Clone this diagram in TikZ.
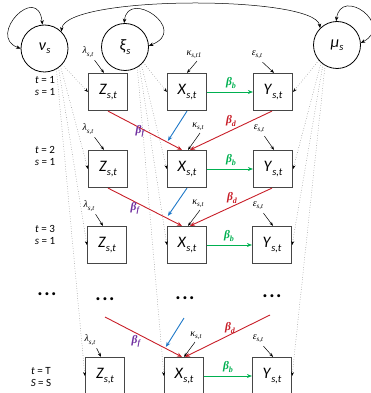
\documentclass[tikz,border=0pt]{standalone}
\usepackage{fontspec}
\setmainfont{Carlito}
\newfontfamily\serifgr{Liberation Serif}
\usetikzlibrary{arrows.meta}
\definecolor{gr}{RGB}{0,176,80}
\definecolor{rd}{RGB}{200,30,40}
\definecolor{pu}{RGB}{112,48,160}
\definecolor{bl}{RGB}{30,120,200}
\definecolor{bxc}{RGB}{70,70,70}
\newcommand{\vv}[2]{\textit{#1}\raisebox{-0.45ex}{\fontsize{10.5}{10.5}\selectfont\textit{#2}}}
\newcommand{\smlab}[2]{{\serifgr\fontsize{10}{10}\selectfont\textit{#1}\raisebox{-0.45ex}{\fontsize{7}{7}\selectfont\textit{#2}}}}
\newcommand{\betalab}[1]{{\serifgr\fontsize{11.5}{11.5}\selectfont\bfseries\itshape β\raisebox{-0.45ex}{\fontsize{8}{8}\selectfont #1}}}
\begin{document}
\begin{tikzpicture}[x=1pt,y=-1pt,
 circ/.style={circle,draw,line width=0.8pt,minimum size=47pt,inner sep=0pt,font=\fontsize{16}{16}\selectfont},
 bx/.style={draw=bxc,line width=1.2pt,minimum width=39pt,minimum height=37pt,inner sep=0pt,fill=white,font=\fontsize{16}{16}\selectfont},
 rowlab/.style={align=center,font=\fontsize{11}{12.5}\selectfont,inner sep=0pt},
 dotsn/.style={font=\fontsize{20}{20}\selectfont\bfseries,inner sep=0pt},
 lab/.style={inner sep=0pt},
 smarr/.style={line width=0.5pt,-{Stealth[length=4pt,width=3pt]}},
 loopa/.style={line width=0.5pt,{Stealth[length=4.5pt,width=3.5pt]}-{Stealth[length=4.5pt,width=3.5pt]}},
 dotl/.style={draw=black!55,dotted,line width=0.5pt,-{Stealth[length=4pt,width=3pt,black]}},
 rarr/.style={draw=rd,line width=0.9pt,-{Stealth[length=5pt,width=4pt]}},
 barr/.style={draw=bl,line width=0.9pt,-{Stealth[length=5pt,width=4pt]}},
 garr/.style={draw=gr,line width=0.9pt,-{Stealth[length=5pt,width=4pt]}}]
\useasboundingbox (0,0) rectangle (371,393);
% latent circles
\node[circ] (nu) at (44.5,48.5) {\vv{ν}{s}};
\node[circ] (xi) at (125,47) {\vv{ξ}{s}};
\node[circ] (mu) at (337,45) {\vv{μ}{s}};
% boxes
\node[bx] (Z1) at (108,92) {\vv{Z}{s,t}};
\node[bx] (X1) at (187,92) {\vv{X}{s,t}};
\node[bx] (Y1) at (273,92) {\vv{Y}{s,t}};
\node[bx] (Z2) at (108,169) {\vv{Z}{s,t}};
\node[bx] (X2) at (187,169) {\vv{X}{s,t}};
\node[bx] (Y2) at (273,169) {\vv{Y}{s,t}};
\node[bx] (Z3) at (107,245) {\vv{Z}{s,t}};
\node[bx] (X3) at (187,245) {\vv{X}{s,t}};
\node[bx] (Y3) at (272,245) {\vv{Y}{s,t}};
\node[bx] (Z4) at (105,376) {\vv{Z}{s,t}};
\node[bx] (X4) at (184,376) {\vv{X}{s,t}};
\node[bx] (Y4) at (272,376) {\vv{Y}{s,t}};
% row labels
\node[rowlab] (r1) at (45,86) {\textit{t} = 1\\\textit{s} = 1};
\node[rowlab] (r2) at (45,156) {\textit{t} = 2\\\textit{s} = 1};
\node[rowlab] (r3) at (45,235) {\textit{t} = 3\\\textit{s} = 1};
\node[rowlab] (r4) at (41,377) {\textit{t} = T\\\textit{S} = S};
% dots
\node[dotsn] (d0) at (47,294) {.\kern1.5pt.\kern1.5pt.};
\node[dotsn] (d1) at (105,299) {.\kern1.5pt.\kern1.5pt.};
\node[dotsn] (d2) at (185,298) {.\kern1.5pt.\kern1.5pt.};
\node[dotsn] (d3) at (272,296) {.\kern1.5pt.\kern1.5pt.};
% self loops and big arc
\draw[loopa] (nu.95) .. controls (38,-18) and (-14,36) .. (nu.180);
\draw[loopa] (xi.92) .. controls (128,-12) and (190,30) .. (xi.3);
\draw[loopa] (mu.92) .. controls (341,-14) and (395,25) .. (mu.5);
\draw[loopa] (nu.45) .. controls (65,-5) and (315,-5) .. (mu.135);
% dotted lines from latent variables
\draw[dotl] (nu.-42) -- (Z1.west);
\draw[dotl] (nu.-48) -- (Z2.west);
\draw[dotl] (nu.-54) -- (Z3.west);
\draw[dotl] (nu.-60) -- (Z4.west);
\draw[dotl] (xi.-40) -- (X1.west);
\draw[dotl] (xi.-47) -- (X2.west);
\draw[dotl] (xi.-53) -- (X3.west);
\draw[dotl] (xi.-59) -- (X4.west);
\draw[dotl] (mu.-140) -- (Y1.east);
\draw[dotl] (mu.-132) -- (Y2.east);
\draw[dotl] (mu.-126) -- (Y3.east);
\draw[dotl] (mu.-120) -- (Y4.east);
% error labels
\node[lab] (lam1) at (88,52) {\smlab{λ}{s,t}};
\node[lab] (lam2) at (88,129) {\smlab{λ}{s,t}};
\node[lab] (lam3) at (89,206) {\smlab{λ}{s,t}};
\node[lab] (lam4) at (90,340) {\smlab{λ}{s,t}};
\node[lab] (kap1) at (194,55) {\smlab{κ}{s,t1}};
\node[lab] (kap2) at (198,127) {\smlab{κ}{s,t}};
\node[lab] (kap3) at (198,204) {\smlab{κ}{s,t}};
\node[lab] (kap4) at (196,336) {\smlab{κ}{s,t}};
\node[lab] (eps1) at (257,55) {\smlab{ε}{s,t}};
\node[lab] (eps2) at (259,129) {\smlab{ε}{s,t}};
\node[lab] (eps3) at (258,206) {\smlab{ε}{s,t}};
\node[lab] (eps4) at (258,339) {\smlab{ε}{s,t}};
\foreach \i in {1,2,3,4}{
  \draw[smarr] ([xshift=1pt,yshift=-3pt]lam\i.south east) -- ([xshift=-4pt]Z\i.north);
  \draw[smarr] ([xshift=0pt,yshift=-3pt]eps\i.south east) -- ([xshift=1pt]Y\i.north);
  \draw[garr] (X\i.east) -- (Y\i.west);
}
\draw[smarr] ([xshift=3pt,yshift=-2pt]kap1.south) -- (X1.north);
\draw[smarr] ([xshift=2pt,yshift=-2pt]kap2.south) -- ([xshift=1pt]X2.north);
\draw[smarr] ([xshift=2pt,yshift=-2pt]kap3.south) -- ([xshift=1pt]X3.north);
\draw[smarr] ([xshift=-1pt,yshift=-2pt]kap4.south) -- ([xshift=0pt]X4.north);
% beta_b labels
\node[lab,text=gr] (bb1) at (231,83) {\betalab{b}};
\node[lab,text=gr] (bb2) at (231,160) {\betalab{b}};
\node[lab,text=gr] (bb3) at (229,236) {\betalab{b}};
\node[lab,text=gr] (bb4) at (228,367) {\betalab{b}};
% transitions row 1 -> 2 and 2 -> 3
\coordinate (bend2) at ([xshift=1pt,yshift=9pt]X2.north west);
\coordinate (bend3) at ([xshift=1pt,yshift=10pt]X3.north west);
\draw[rarr] (Z1.south) -- ([xshift=-5pt]X2.north);
\draw[rarr] ([xshift=-1pt]Y1.south) -- ([xshift=3pt]X2.north);
\draw[barr] (X1.south) -- (bend2);
\draw[rarr] (Z2.south) -- ([xshift=-5pt]X3.north);
\draw[rarr] ([xshift=-1pt]Y2.south) -- ([xshift=3pt]X3.north);
\draw[barr] (X2.south) -- (bend3);
% transition into last row
\coordinate (rz) at (105,317);
\coordinate (ry) at (270,315);
\coordinate (rb) at (184,318);
\coordinate (bend4) at ([xshift=2pt,yshift=10pt]X4.north west);
\draw[rarr] (rz) -- ([xshift=-2pt]X4.north);
\draw[rarr] (ry) -- ([xshift=1pt]X4.north);
\draw[barr] (rb) -- (bend4);
% beta labels
\node[lab,text=pu] (bf1) at (140,131) {\betalab{f}};
\node[lab,text=pu] (bf2) at (135,208) {\betalab{f}};
\node[lab,text=pu] (bf4) at (136,341) {\betalab{f}};
\node[lab,text=rd] (bd1) at (231,121) {\betalab{d}};
\node[lab,text=rd] (bd2) at (232,198) {\betalab{d}};
\node[lab,text=rd] (bd4) at (230,328) {\betalab{d}};
\end{tikzpicture}
\end{document}
